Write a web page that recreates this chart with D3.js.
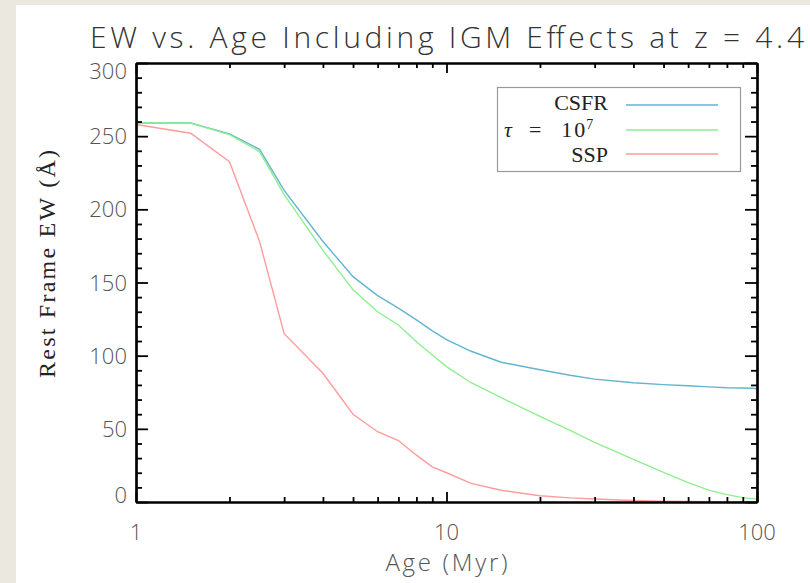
<!DOCTYPE html>
<html>
<head>
<meta charset="utf-8">
<script src="https://cdn.jsdelivr.net/npm/d3@7"></script>
<style>
  html, body { margin: 0; padding: 0; background: #ebe9df; }
  svg { display: block; }
</style>
</head>
<body>
<svg id="chart" width="810" height="583"></svg>
<script>
// Ages (Myr) of the model grid
const ages = [1, 1.5, 2, 2.5, 3, 4, 5, 6, 7, 8, 9, 10, 12, 15, 20, 25, 30, 40, 50, 60, 70, 80, 90, 100];
// Rest-frame Lyman-alpha EW (Å) for each star formation history
const csfr = [259, 259, 251.5, 241, 213, 178, 154, 141, 132.5, 124.5, 117, 111, 103, 95.5, 90.4, 86.6, 84, 81.5, 80.2, 79.4, 78.7, 78.1, 77.9, 77.6];
const tau7 = [259, 259, 251, 239.5, 210, 172, 145, 130, 121, 109.5, 100.5, 92.5, 81.5, 71.3, 58.5, 48.9, 40.7, 29.2, 20.3, 13.2, 8.1, 5, 3, 2];
const ssp  = [258, 252, 232.5, 178, 115, 88, 60, 48, 42, 32, 24, 20, 12.7, 8, 4.3, 2.8, 2, 1, 0.5, 0.3, 0.2, 0.1, 0.1, 0.1];

const seriesNames = ["CSFR", "tau", "SSP"];
const seriesColors = ["#62b4d0", "#8eef8e", "#ff9c9c"];
const seriesValues = [csfr, tau7, ssp];

const xTicks = [1, 10, 100];
const yTicks = [0, 50, 100, 150, 200, 250, 300];

const svg = d3.select("#chart");
const W = 810, H = 583;

// Page background and white panel
svg.append("rect").attr("x", 0).attr("y", 0).attr("width", W).attr("height", H).attr("fill", "#ebe9df");
svg.append("rect").attr("x", 16).attr("y", 5).attr("width", W - 16).attr("height", H - 5).attr("fill", "#ffffff");

const plot = { left: 136, right: 757, top: 63, bottom: 502 };

const x = d3.scaleLog().domain([1, 100]).range([plot.left, plot.right]);
const y = d3.scaleLinear().domain([0, 300]).range([plot.bottom, plot.top]);

const sansFont = "'Open Sans', Lato, 'DejaVu Sans', sans-serif";
const serifFont = "'Liberation Serif', 'DejaVu Serif', serif";

// Title
svg.append("text")
  .attr("x", 90).attr("y", 48)
  .attr("font-family", sansFont).attr("font-weight", 300)
  .attr("font-size", 30).attr("fill", "#333")
  .attr("textLength", 714).attr("lengthAdjust", "spacing")
  .text("EW vs. Age Including IGM Effects at z = 4.4");

// Series lines
const line = d3.line()
  .x(d => x(d[0]))
  .y(d => y(d[1]));

const g = svg.append("g");
seriesValues.forEach((vals, i) => {
  g.append("path")
    .datum(ages.map((a, k) => [a, vals[k]]))
    .attr("d", line)
    .attr("fill", "none")
    .attr("stroke", seriesColors[i])
    .attr("stroke-width", 1.4);
});

// Frame with mirrored ticks on all four sides
const axisColor = "#000";
function tickedAxis(axisGen, tx, ty) {
  const a = svg.append("g").attr("transform", `translate(${tx},${ty})`).call(axisGen);
  a.selectAll("path.domain").attr("stroke", axisColor).attr("stroke-width", 2.2);
  a.selectAll(".tick line").attr("stroke", axisColor).attr("stroke-width", 1.8);
  return a;
}

const xMinor = [];
[1, 10].forEach(dec => { for (let k = 2; k <= 9; k++) xMinor.push(dec * k); });
const yMinor = d3.range(0, 301, 10).filter(v => v % 50 !== 0);

// bottom
tickedAxis(d3.axisTop(x).tickValues(xMinor).tickSize(5).tickFormat("").tickSizeOuter(0), 0, plot.bottom);
tickedAxis(d3.axisTop(x).tickValues(xTicks).tickSize(10).tickFormat("").tickSizeOuter(0), 0, plot.bottom);
// top
tickedAxis(d3.axisBottom(x).tickValues(xMinor).tickSize(5).tickFormat("").tickSizeOuter(0), 0, plot.top);
tickedAxis(d3.axisBottom(x).tickValues(xTicks).tickSize(10).tickFormat("").tickSizeOuter(0), 0, plot.top);
// left
tickedAxis(d3.axisRight(y).tickValues(yMinor).tickSize(6).tickFormat("").tickSizeOuter(0), plot.left, 0);
tickedAxis(d3.axisRight(y).tickValues(yTicks).tickSize(12).tickFormat("").tickSizeOuter(0), plot.left, 0);
// right
tickedAxis(d3.axisLeft(y).tickValues(yMinor).tickSize(6).tickFormat("").tickSizeOuter(0), plot.right, 0);
tickedAxis(d3.axisLeft(y).tickValues(yTicks).tickSize(12).tickFormat("").tickSizeOuter(0), plot.right, 0);

// Tick labels
const labelColor = "#555";
svg.append("g").selectAll("text").data(xTicks).join("text")
  .attr("x", d => x(d)).attr("y", 540)
  .attr("text-anchor", "middle")
  .attr("font-family", sansFont).attr("font-weight", 300)
  .attr("font-size", 22).attr("fill", labelColor)
  .text(d => d);

svg.append("g").selectAll("text").data(yTicks).join("text")
  .attr("x", 127)
  .attr("y", d => {
    const base = y(d) + 8;
    if (d === 300) return base + 8;
    if (d === 0) return base - 7;
    return base;
  })
  .attr("text-anchor", "end")
  .attr("font-family", sansFont).attr("font-weight", 300)
  .attr("font-size", 22).attr("fill", labelColor)
  .text(d => d);

// Axis titles
svg.append("text")
  .attr("x", x(10)).attr("y", 571)
  .attr("text-anchor", "middle")
  .attr("font-family", sansFont).attr("font-weight", 300)
  .attr("font-size", 24).attr("fill", labelColor)
  .attr("textLength", 122).attr("lengthAdjust", "spacing")
  .text("Age (Myr)");

svg.append("text")
  .attr("transform", "translate(55,264) rotate(-90)")
  .attr("text-anchor", "middle")
  .attr("font-family", serifFont)
  .attr("font-size", 24).attr("fill", "#222")
  .attr("textLength", 228).attr("lengthAdjust", "spacing")
  .text("Rest Frame EW (Å)");

// Legend
const lg = svg.append("g");
lg.append("rect")
  .attr("x", 497.5).attr("y", 87.5).attr("width", 243).attr("height", 84)
  .attr("fill", "#fff").attr("stroke", "#999").attr("stroke-width", 1.2);

const legendRows = [105, 130, 154];
seriesNames.forEach((name, i) => {
  lg.append("line")
    .attr("x1", 626).attr("x2", 718)
    .attr("y1", legendRows[i]).attr("y2", legendRows[i])
    .attr("stroke", seriesColors[i]).attr("stroke-width", 1.6);
});

const legendSize = 22;
const legendText = (tx, ty, s) =>
  lg.append("text").attr("x", tx).attr("y", ty)
    .attr("text-anchor", "end")
    .attr("font-family", serifFont).attr("font-size", legendSize)
    .attr("fill", "#222").text(s);

legendText(608, 110, "CSFR");
legendText(608, 162, "SSP");

// tau = 10^7 row as a single text with a raised exponent
const tauRow = lg.append("text")
  .attr("x", 504).attr("y", 137)
  .attr("font-family", serifFont).attr("font-size", legendSize)
  .attr("fill", "#222")
  .attr("xml:space", "preserve");
tauRow.append("tspan").attr("font-style", "italic").text("τ");
tauRow.append("tspan").attr("dx", 17).text("=");
tauRow.append("tspan").attr("dx", 20).text("1");
tauRow.append("tspan").attr("dx", 2).text("0");
tauRow.append("tspan").attr("dx", 1).attr("dy", -8).attr("font-size", 14).text("7");
</script>
</body>
</html>
